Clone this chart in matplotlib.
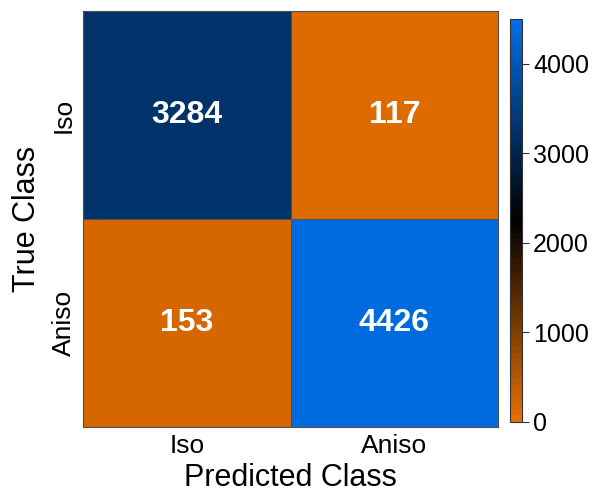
import matplotlib
matplotlib.use("Agg")
import matplotlib.pyplot as plt
import numpy as np
from matplotlib.colors import LinearSegmentedColormap

# confusion matrix counts (rows: true class, cols: predicted class)
class_names = ["Iso", "Aniso"]
counts = [[3284, 117],
          [153, 4426]]

plt.rcParams["font.family"] = ["Liberation Sans", "DejaVu Sans"]

# orange -> black -> blue, 64 steps
cmap = LinearSegmentedColormap.from_list(
    "orange_black_blue", ["#e46e00", "#000000", "#006ee6"], N=64)

fig = plt.figure(figsize=(5.93, 4.93), dpi=100)
ax = fig.add_axes([0.1400, 0.1339, 0.6998, 0.8438])
cax = fig.add_axes([0.8592, 0.1446, 0.0211, 0.8168])

data = np.array(counts)
mesh = ax.pcolormesh(data, cmap=cmap, vmin=0, vmax=4500,
                     edgecolor="#505050", linewidth=0.6)
ax.set_xlim(0, 2)
ax.set_ylim(2, 0)

for i in range(data.shape[0]):
    for j in range(data.shape[1]):
        ax.text(j + 0.5, i + 0.5, str(data[i, j]), ha="center", va="center",
                color="white", fontsize=23, fontweight="bold")

ax.set_xticks([0.5, 1.5])
ax.set_xticklabels(class_names, fontsize=19)
ax.set_yticks([0.5, 1.5])
ax.set_yticklabels(class_names, fontsize=19, rotation=90, va="center")
ax.tick_params(length=0, pad=5)
for s in ax.spines.values():
    s.set_color("#505050")
    s.set_linewidth(0.8)

ax.set_xlabel("Predicted Class", fontsize=22, labelpad=4)
ax.set_ylabel("True Class", fontsize=22, labelpad=7)

cb = fig.colorbar(mesh, cax=cax)
cb.set_ticks([0, 1000, 2000, 3000, 4000])
cb.ax.tick_params(labelsize=18, length=5, width=0.8, color="#333333", pad=3)
cb.outline.set_linewidth(0.8)
cb.outline.set_edgecolor("#333333")

fig.savefig("out.png", dpi=100)
